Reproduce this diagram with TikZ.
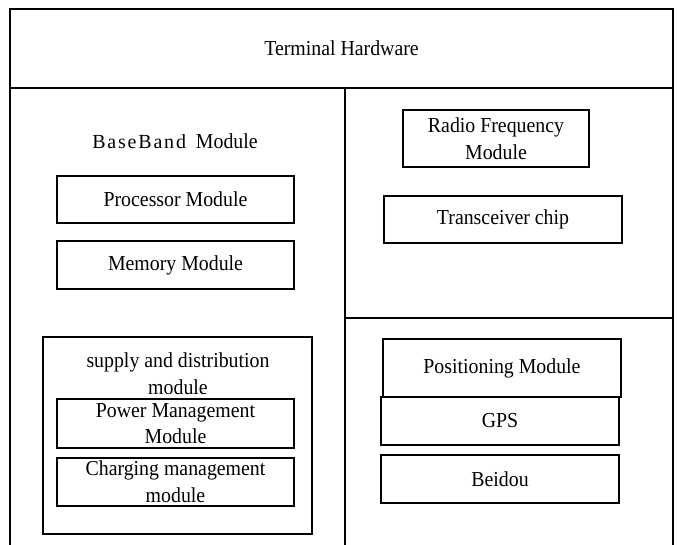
\documentclass[tikz,border=0pt]{standalone}
\usepackage{fontspec}
\setmainfont{Liberation Serif}[FakeStretch=0.93]
\newfontfamily\bbfont[LetterSpace=9]{Liberation Serif}
\usetikzlibrary{positioning}
\begin{document}
\begin{tikzpicture}[x=0.75pt,y=-0.75pt,
  every node/.style={font=\fontsize{16}{20}\selectfont, align=center, inner sep=0pt},
  frame/.style={draw, line width=1.5pt},
  box/.style={draw, line width=1.1pt},
  sz/.style n args={2}{minimum width=#1*0.75pt, minimum height=#2*0.75pt}]
\useasboundingbox (0,0) rectangle (677,544);
\fill[white] (0,0) rectangle (677,544);
% outer frame parts
\node[frame, sz={663}{79}] (term) at (341.5,48.5) {Terminal Hardware};
\node[frame, sz={335}{470}] (bb) at (177.5,323) {};
\node[frame, sz={328}{230}] (rfarea) at (509,203) {};
\node[frame, sz={328}{240}] (posarea) at (509,438) {};
% left column
\node (bbt) at (175,141) {{\bbfont\fontsize{15}{20}\selectfont BaseBand}\ \ Module};
\node[box, sz={237}{47}] (proc) at (175.5,199.5) {Processor Module};
\node[box, sz={237}{48}] (mem) at (175.5,265) {Memory Module};
\node[box, sz={269}{197}] (sup) at (177.5,435.5) {};
\node (supt) at (178,373.5) {supply and distribution\\module};
\node[box, sz={237}{49}] (pwr) at (175.5,423.5) {Power Management\\Module};
\node[box, sz={237}{48}] (chg) at (175.5,482) {Charging management\\module};
% right column
\node[box, sz={186}{57}] (rf) at (496,138.5) {Radio Frequency\\Module};
\node[box, sz={238}{47}] (trx) at (503,219.5) {Transceiver chip};
\node[box, sz={238}{58}] (pos) at (502,368) {Positioning Module};
\node[box, sz={238}{48}] (gps) at (500,421) {GPS};
\node[box, sz={238}{48}] (bd) at (500,479) {Beidou};
\end{tikzpicture}
\end{document}
